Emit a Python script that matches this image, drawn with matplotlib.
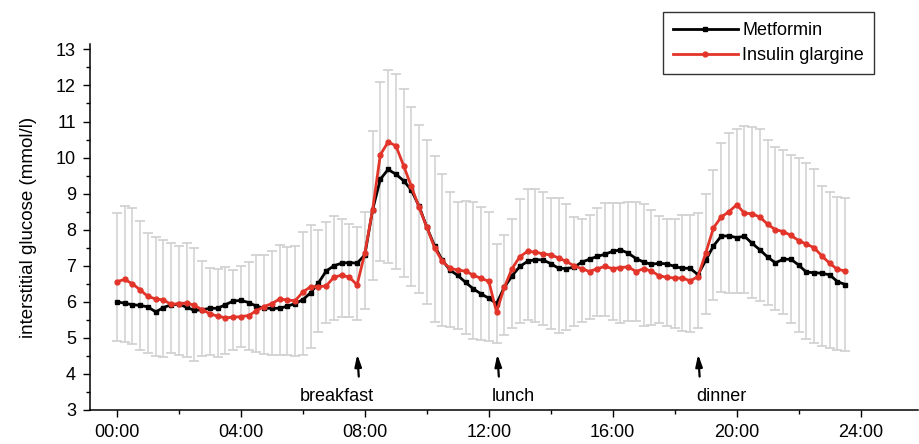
import numpy as np
import matplotlib
matplotlib.use("Agg")
import matplotlib.pyplot as plt
from matplotlib.ticker import MultipleLocator

plt.rcParams["font.family"] = ["Liberation Sans", "DejaVu Sans"]

# time of day in hours, one reading every 15 min
hours = np.arange(95) * 0.25

metformin = [
    6.00, 5.96, 5.92, 5.90, 5.86, 5.72, 5.84, 5.92, 5.93, 5.85, 5.76, 5.78,
    5.82, 5.82, 5.92, 6.02, 6.04, 5.98, 5.88, 5.82, 5.82, 5.82, 5.88, 5.95,
    6.06, 6.25, 6.52, 6.85, 7.00, 7.07, 7.09, 7.07, 7.30, 8.55, 9.40, 9.67,
    9.54, 9.36, 9.10, 8.65, 8.07, 7.55, 7.15, 6.88, 6.73, 6.54, 6.36, 6.22,
    6.10, 5.95, 6.40, 6.72, 6.98, 7.12, 7.17, 7.16, 7.06, 6.93, 6.92, 6.96,
    7.10, 7.18, 7.26, 7.32, 7.40, 7.44, 7.35, 7.20, 7.10, 7.04, 7.07, 7.05,
    6.98, 6.93, 6.93, 6.75, 7.15, 7.55, 7.82, 7.83, 7.78, 7.82, 7.62, 7.44,
    7.24, 7.08, 7.18, 7.18, 7.02, 6.82, 6.81, 6.79, 6.75, 6.56, 6.48,
]

glargine = [
    6.56, 6.62, 6.50, 6.33, 6.15, 6.08, 6.05, 5.93, 5.95, 5.97, 5.90, 5.78,
    5.67, 5.60, 5.56, 5.57, 5.59, 5.62, 5.75, 5.87, 5.95, 6.08, 6.05, 6.03,
    6.27, 6.42, 6.42, 6.44, 6.68, 6.74, 6.68, 6.47, 7.35, 8.55, 10.08, 10.43,
    10.33, 9.78, 9.20, 8.62, 8.07, 7.50, 7.12, 6.93, 6.88, 6.85, 6.74, 6.65,
    6.57, 5.72, 6.40, 6.92, 7.25, 7.40, 7.38, 7.33, 7.30, 7.22, 7.12, 7.00,
    6.92, 6.84, 6.92, 6.98, 6.92, 6.95, 6.97, 6.84, 6.92, 6.85, 6.72, 6.68,
    6.66, 6.66, 6.58, 6.70, 7.35, 8.05, 8.35, 8.50, 8.69, 8.46, 8.44, 8.35,
    8.15, 8.00, 7.95, 7.84, 7.70, 7.60, 7.50, 7.27, 7.07, 6.90, 6.86,
]

sd_upper = [
    8.46, 8.65, 8.60, 8.25, 7.92, 7.80, 7.72, 7.64, 7.55, 7.63, 7.50, 7.12,
    6.93, 6.90, 6.97, 6.89, 6.98, 7.10, 7.31, 7.31, 7.40, 7.58, 7.52, 7.55,
    7.95, 8.12, 8.00, 8.20, 8.37, 8.30, 8.15, 8.08, 8.50, 10.75, 12.10, 12.44,
    12.32, 11.90, 11.40, 10.90, 10.48, 10.05, 9.55, 9.05, 8.78, 8.80, 8.78, 8.64,
    8.48, 7.60, 7.85, 8.30, 8.85, 9.13, 9.14, 9.05, 8.88, 8.88, 8.72, 8.35,
    8.30, 8.42, 8.60, 8.74, 8.74, 8.74, 8.78, 8.78, 8.72, 8.55, 8.38, 8.30,
    8.30, 8.40, 8.40, 8.45, 9.00, 9.65, 10.40, 10.68, 10.80, 10.87, 10.84, 10.80,
    10.50, 10.30, 10.22, 10.08, 9.98, 9.85, 9.68, 9.20, 9.05, 8.92, 8.88,
]

sd_lower = [
    4.90, 4.88, 4.82, 4.66, 4.58, 4.50, 4.46, 4.57, 4.52, 4.46, 4.36, 4.50,
    4.52, 4.48, 4.55, 4.67, 4.75, 4.66, 4.62, 4.55, 4.53, 4.53, 4.52, 4.50,
    4.52, 4.72, 5.15, 5.40, 5.50, 5.58, 5.58, 5.50, 5.80, 6.60, 7.12, 7.08,
    6.90, 6.68, 6.45, 6.25, 5.95, 5.45, 5.32, 5.30, 5.24, 5.12, 4.96, 4.94,
    4.92, 4.86, 5.08, 5.28, 5.41, 5.50, 5.45, 5.36, 5.25, 5.13, 5.22, 5.32,
    5.44, 5.52, 5.60, 5.62, 5.50, 5.42, 5.48, 5.48, 5.33, 5.35, 5.40, 5.34,
    5.26, 5.20, 5.16, 5.28, 5.65, 6.05, 6.27, 6.24, 6.24, 6.24, 6.10, 6.02,
    5.90, 5.78, 5.65, 5.40, 5.15, 4.98, 4.86, 4.78, 4.72, 4.66, 4.63,
]

tick_hours = [0, 4, 8, 12, 16, 20, 24]
tick_labels = ["00:00", "04:00", "08:00", "12:00", "16:00", "20:00", "24:00"]

meals = ["breakfast", "lunch", "dinner"]
meal_hours = [7.75, 12.27, 18.75]
meal_label_hours = [7.1, 12.8, 19.5]

fig = plt.figure(figsize=(9.2, 4.44), dpi=100)
ax = fig.add_axes([0.0978, 0.0766, 0.90, 0.8243])

# grey SD bars behind the curves
bar_col = "#d0d0d0"
ax.vlines(hours, sd_lower, sd_upper, color=bar_col, lw=1.1, zorder=1)
ax.plot(hours, sd_upper, ls="none", marker="_", ms=7, mew=1.2, color=bar_col, zorder=1)
ax.plot(hours, sd_lower, ls="none", marker="_", ms=7, mew=1.2, color=bar_col, zorder=1)

ax.plot(hours, metformin, color="black", lw=2.0, marker="s", ms=3.3,
        label="Metformin", zorder=3)
ax.plot(hours, glargine, color="#e3342a", lw=2.0, marker="o", ms=3.5,
        label="Insulin glargine", zorder=3)

for name, h, lh in zip(meals, meal_hours, meal_label_hours):
    ax.annotate("", xy=(h, 4.62), xytext=(h + 0.06, 3.85),
                arrowprops=dict(arrowstyle="-|>,head_length=0.7,head_width=0.2",
                                color="black", lw=1.6))
    ax.text(lh, 3.38, name, ha="center", va="center", fontsize=13)

ax.set_xlim(-0.87, 25.85)
ax.set_ylim(3, 13.15)
ax.set_xticks(tick_hours)
ax.set_xticklabels(tick_labels)
ax.xaxis.set_minor_locator(MultipleLocator(2))
ax.yaxis.set_major_locator(MultipleLocator(1))
ax.yaxis.set_minor_locator(MultipleLocator(0.5))
ax.tick_params(which="major", direction="out", length=5, width=1, labelsize=13)
ax.tick_params(axis="x", which="major", pad=5)
ax.tick_params(axis="y", which="major", pad=5)
ax.tick_params(which="minor", direction="out", length=3, width=1)
ax.spines["top"].set_visible(False)
ax.spines["right"].set_visible(False)
for s in ("left", "bottom"):
    ax.spines[s].set_linewidth(1.1)

ax.set_ylabel("interstitial glucose (mmol/l)", fontsize=13.5, labelpad=14)

leg = fig.legend(loc="upper left", bbox_to_anchor=(663 / 920, 1 - 12 / 444),
                 fontsize=13, frameon=True, fancybox=False, handlelength=3.6,
                 borderpad=0.55, labelspacing=0.45, handletextpad=0.25,
                 borderaxespad=0)
leg.get_frame().set_edgecolor("black")
leg.get_frame().set_linewidth(1.0)

fig.savefig("out.png", dpi=100)
